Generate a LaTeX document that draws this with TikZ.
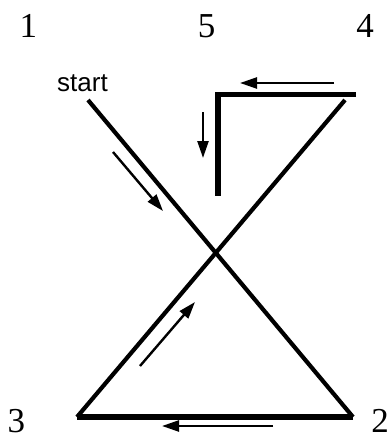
\documentclass[tikz,border=0pt]{standalone}
\usepackage{fontspec}
\setmainfont{Liberation Serif}
\setsansfont{Liberation Sans}
\usetikzlibrary{arrows.meta}

\begin{document}
\begin{tikzpicture}[x=1pt,y=-1pt,>={Triangle[length=17pt,width=11pt]},
  heavy/.style={line width=5.5pt,line join=miter},
  edge/.style={line width=4.2pt},
  flow/.style={->,line width=2.4pt},
  num/.style={font=\fontsize{35}{35}\selectfont,anchor=base,inner sep=0pt}]
  \useasboundingbox (0,0) rectangle (391,441);
  \node[num] (n1) at (28.5,38) {1};
  \node[num] (n5) at (206.5,38) {5};
  \node[num] (n4) at (365,38) {4};
  \node[num] (n3) at (16.5,432.5) {3};
  \node[num] (n2) at (380,432.5) {2};
  \node[font=\sffamily\fontsize{26}{26}\selectfont,anchor=base,inner sep=0pt]
    (start) at (82.5,92) {start};
  \coordinate (p1) at (88,100);
  \coordinate (p2) at (353,417);
  \coordinate (p3) at (77,417);
  \coordinate (p4) at (345,100);
  \coordinate (t4) at (356,94.5);
  \coordinate (t5) at (218,94.5);
  \coordinate (p5) at (218,196);
  \draw[edge] (p1) -- (p2);
  \draw[edge] (p3) -- (p4);
  \draw[heavy] (p2) -- (p3);
  \draw[heavy] (t4) -- (t5) -- (p5);
  \coordinate (a1) at (113,152);
  \coordinate (b1) at (163,211);
  \coordinate (a2) at (140,366);
  \coordinate (b2) at (195,302);
  \coordinate (a3) at (334,83);
  \coordinate (b3) at (240,83);
  \coordinate (a4) at (203,112);
  \coordinate (b4) at (203,158);
  \coordinate (a5) at (273,426);
  \coordinate (b5) at (162,426);
  \draw[flow] (a1) -- (b1);
  \draw[flow] (a2) -- (b2);
  \draw[flow] (a3) -- (b3);
  \draw[flow] (a4) -- (b4);
  \draw[flow] (a5) -- (b5);
\end{tikzpicture}
\end{document}
